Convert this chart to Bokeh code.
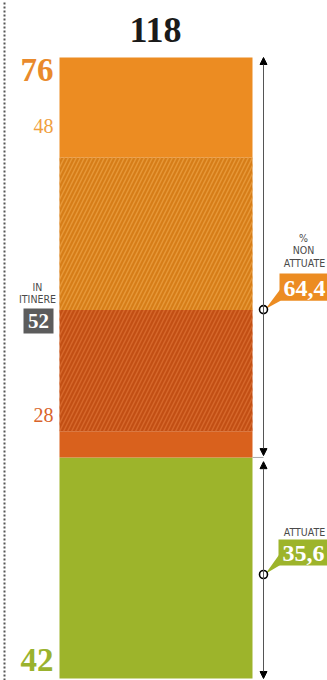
from bokeh.plotting import figure
from bokeh.models import Range1d, Label, Arrow, NormalHead, ColumnDataSource
from bokeh.embed import file_html
from bokeh.resources import INLINE

# Misure: totale, non attuate (chiare + scure), attuate, in itinere
total = 118
non_attuate = 76
non_attuate_light = 48
non_attuate_dark = 28
attuate = 42
in_itinere = 52
in_itinere_light = 29   # quota in itinere dentro le 48
in_itinere_dark = 23    # quota in itinere dentro le 28
pct_non_attuate = "64,4"
pct_attuate = "35,6"

# Segmenti della colonna, dal basso verso l'alto
seg_names = ["attuate", "scure", "scure_itinere", "chiare_itinere", "chiare"]
seg_sizes = [attuate,
             non_attuate_dark - in_itinere_dark,
             in_itinere_dark,
             in_itinere_light,
             non_attuate_light - in_itinere_light]
seg_colors = ["#9db42b", "#d9611d", "#c24f14", "#d67d18", "#ec8c22"]
seg_hatch = ["", "", "/", "/", ""]
seg_hatch_colors = ["#9db42b", "#d9611d", "#d86a2e", "#e99b3c", "#ec8c22"]

bottoms, tops = [], []
acc = 0
for s in seg_sizes:
    bottoms.append(acc)
    acc += s
    tops.append(acc)

PX = 621 / total  # pixel per unità

p = figure(width=327, height=680, output_backend="svg", toolbar_location=None,
           x_range=Range1d(0, 327), y_range=Range1d(-2 / PX, total + 57 / PX),
           min_border=0, outline_line_color=None, background_fill_color="white",
           border_fill_color="white")
p.axis.visible = False
p.grid.visible = False

src = ColumnDataSource(dict(x=[155.5] * len(seg_sizes), bottom=bottoms, top=tops,
                            color=seg_colors, hatch=seg_hatch, hcolor=seg_hatch_colors))
p.vbar(x="x", width=193, bottom="bottom", top="top", source=src,
       fill_color="color", line_color=None, hatch_pattern="hatch",
       hatch_color="hcolor", hatch_scale=8, hatch_weight=1.4, hatch_alpha=0.9)

# cornice punteggiata a sinistra
p.segment(x0=[4], y0=[p.y_range.start], x1=[4], y1=[p.y_range.end],
          line_color="#555555", line_width=2, line_dash="2 2")

# frecce di misura
ax = 263
head = dict(size=7, fill_color="black", line_color="black")
p.add_layout(Arrow(start=NormalHead(**head), end=NormalHead(**head),
                   x_start=ax, x_end=ax, y_start=attuate + 0.35, y_end=total,
                   line_color="#555555", line_width=1))
p.add_layout(Arrow(start=NormalHead(**head), end=NormalHead(**head),
                   x_start=ax, x_end=ax, y_start=0, y_end=attuate - 0.8,
                   line_color="#555555", line_width=1))
p.segment(x0=[252], y0=[attuate], x1=[ax], y1=[attuate], line_color="#aaaaaa", line_width=1)

serif = "Liberation Serif"
sans = "DejaVu Sans Condensed, DejaVu Sans"

def lab(x, y, t, size, color, style="normal", font=serif, align="right"):
    # y è la linea di base desiderata; correzione per la posizione del testo
    p.add_layout(Label(x=x, y=y + 0.39 * size / PX, text=t, text_font=font,
                       text_font_size=f"{size}px", text_color=color,
                       text_font_style=style, text_align=align,
                       text_baseline="alphabetic"))

lab(155, total + 2.6, str(total), 36, "#1a1a1a", "bold", align="center")
lab(53, total - 4.8, str(non_attuate), 33, "#e98a2c", "bold")
lab(53, total - 14.5, str(non_attuate_light), 20, "#f0a040")
lab(53, attuate + 6.6, str(non_attuate_dark), 20, "#d9642a")
lab(53, 1.1, str(attuate), 33, "#9ab22e", "bold")

# in itinere
lab(37, 73.7, "IN", 10.5, "#4a4a4a", font=sans, align="center")
lab(37, 71.4, "ITINERE", 10.5, "#4a4a4a", font=sans, align="center")
p.quad(left=[23], right=[53], bottom=[65.55], top=[70.3], fill_color="#5c5c5c", line_color=None)
lab(38, 66.4, str(in_itinere), 21, "white", "bold", align="center")

# richiamo percentuale non attuate
lab(303, 83.0, "%", 10.5, "#4a4a4a", font=sans, align="center")
lab(303, 80.56, "NON", 10.5, "#4a4a4a", font=sans, align="center")
lab(304, 78.1, "ATTUATE", 10.5, "#4a4a4a", font=sans, align="center")
p.quad(left=[279], right=[330], bottom=[71.8], top=[76.95], fill_color="#ec8c22", line_color=None)
p.patch(x=[280, 280, ax + 2], y=[74.0, 71.8, 70.2], fill_color="#ec8c22", line_color=None)
lab(283, 72.4, pct_non_attuate, 24, "white", "bold", align="left")
p.scatter(x=[ax], y=[70.1], size=8, fill_color="white", line_color="black", line_width=1.6)

# richiamo percentuale attuate
lab(304, 27.0, "ATTUATE", 10.5, "#4a4a4a", font=sans, align="center")
p.quad(left=[278], right=[330], bottom=[21.47], top=[26.41], fill_color="#9db42b", line_color=None)
p.patch(x=[279, 279, ax + 2], y=[23.6, 21.47, 19.9], fill_color="#9db42b", line_color=None)
lab(282, 22.0, pct_attuate, 24, "white", "bold", align="left")
p.scatter(x=[ax], y=[19.76], size=8, fill_color="white", line_color="black", line_width=1.6)

open("out.html", "w").write(file_html(p, INLINE))
